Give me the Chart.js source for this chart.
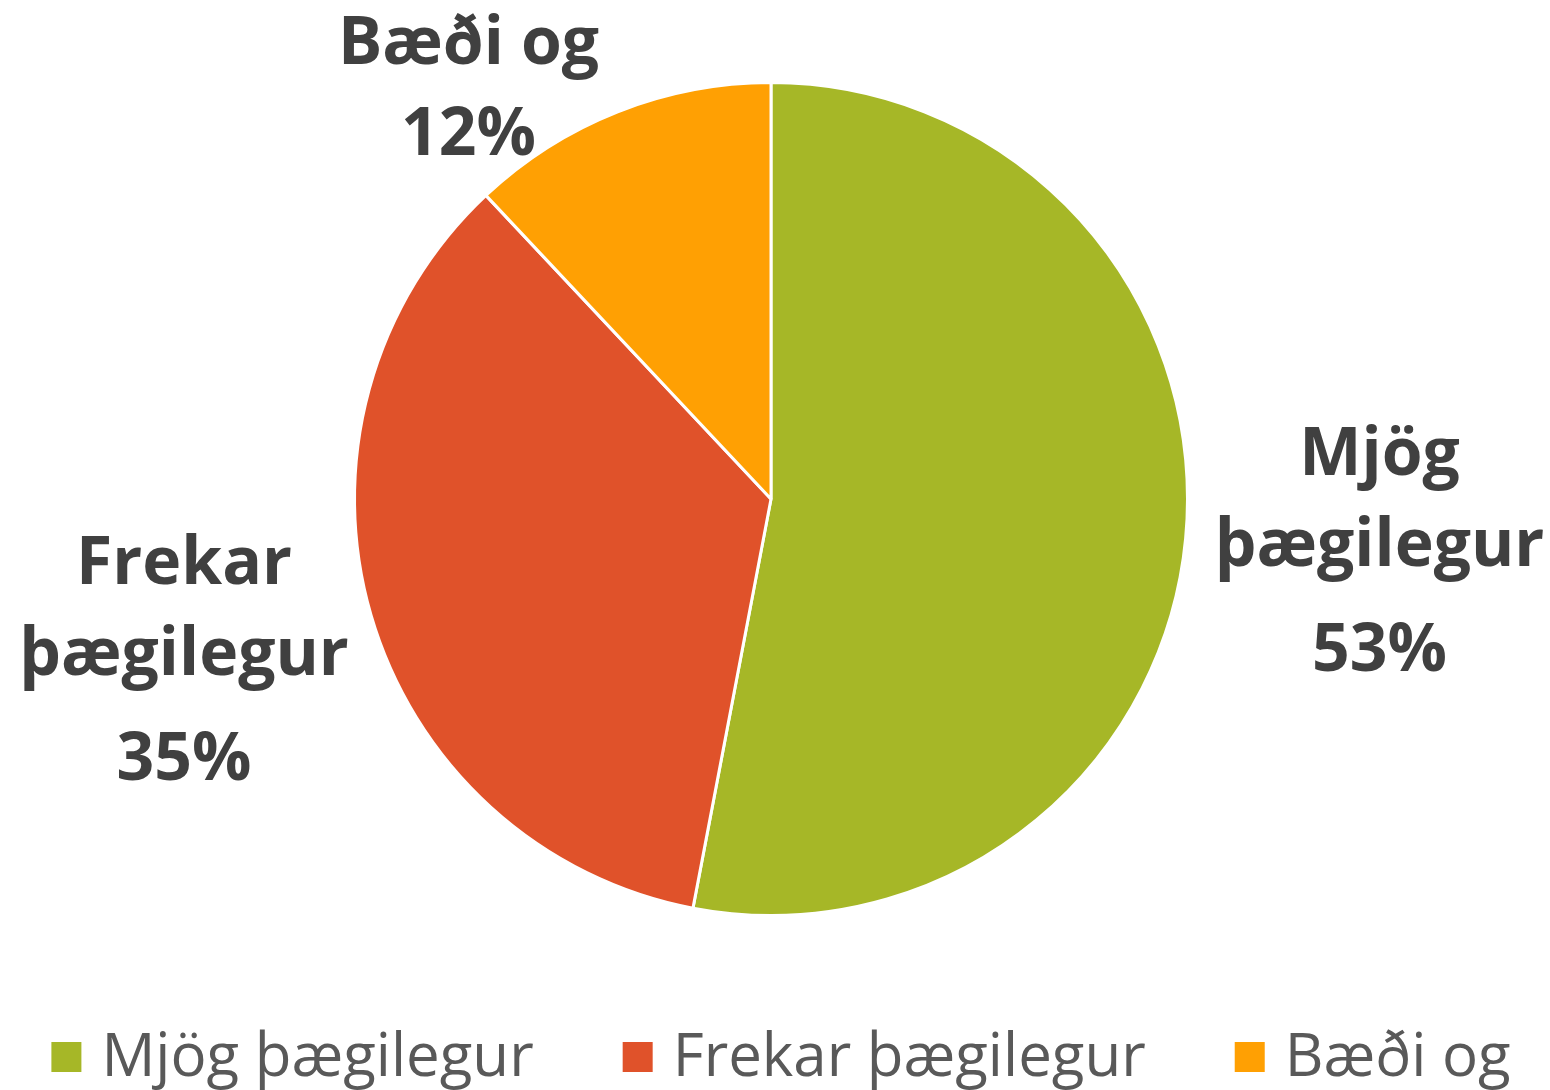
<!DOCTYPE html>
<html>
<head>
<meta charset="utf-8">
<script src="https://cdn.jsdelivr.net/npm/chart.js@4/dist/chart.umd.min.js"></script>
<style>
    body { margin: 0; background: #ffffff; }
</style>
</head>
<body>
<canvas id="pieChart" width="1550" height="1090"></canvas>

<script>

const categories = ["Mjög þægilegur", "Frekar þægilegur", "Bæði og"];

const shares = [53, 35, 12];

const sliceColors = ["#A6B727", "#E0522A", "#FFA003"];

const FONT = "'Open Sans', 'DejaVu Sans', sans-serif";

// MERKINGAR Á SNEIÐUM
const sliceLabels = {

    id: "sliceLabels",

    afterDatasetsDraw(chart) {

        const ctx = chart.ctx;

        const meta = chart.getDatasetMeta(0);

        const values = chart.data.datasets[0].data;

        const total = values.reduce((a, b) => a + b, 0);

        const fontSize = 66;

        const lineHeight = 91;

        const pctExtra = 14;

        ctx.save();

        ctx.font = "bold " + fontSize + "px " + FONT;

        ctx.fillStyle = "#404040";

        ctx.textAlign = "center";

        ctx.textBaseline = "middle";

        meta.data.forEach((arc, i) => {

            const name = chart.data.labels[i];

            let lines = [name];

            if (ctx.measureText(name).width > 350) {

                lines = name.split(" ");
            }

            lines.push(Math.round(values[i] / total * 100) + "%");

            // bil milli lína, aukabil á undan prósentu ef nafn er í tveimur línum
            const offsets = lines.map((l, k) =>
                k * lineHeight + (k === lines.length - 1 && k > 1 ? pctExtra : 0)
            );

            const widths = lines.map(l => ctx.measureText(l).width);

            const boxW = Math.max(...widths);

            const boxH = offsets[offsets.length - 1] + lineHeight;

            const mid = (arc.startAngle + arc.endAngle) / 2;

            const dx = Math.cos(mid);

            const dy = Math.sin(mid);

            const r = arc.outerRadius;

            let cx = arc.x + dx * (r + 30) + dx * boxW / 2;

            let cy = arc.y + dy * (r + 30) + dy * boxH / 2;

            // halda innan myndar
            cy = Math.max(cy, boxH / 2);

            cy = Math.min(cy, chart.height - boxH / 2);

            const lineY = k => cy - boxH / 2 + lineHeight / 2 + offsets[k];

            const lineRows = () => lines.map((l, k) => ({
                x1: cx - widths[k] / 2,
                x2: cx + widths[k] / 2,
                y1: lineY(k) - fontSize * 0.36,
                y2: lineY(k) + fontSize * 0.36
            }));

            const tooClose = () => lineRows().some(b => {

                const nx = Math.max(b.x1, Math.min(arc.x, b.x2));

                const ny = Math.max(b.y1, Math.min(arc.y, b.y2));

                return Math.hypot(nx - arc.x, ny - arc.y) < r - 5;
            });

            let guard = 0;

            while (tooClose() && guard < 400) {

                cx += dx < 0 ? -2 : 2;

                guard++;
            }

            lines.forEach((l, k) => {

                ctx.fillText(l, cx, lineY(k));
            });
        });

        ctx.restore();
    }
};

// SKÝRINGAR
const bottomLegend = {

    id: "bottomLegend",

    afterDraw(chart) {

        const ctx = chart.ctx;

        const colors = chart.data.datasets[0].backgroundColor;

        const box = 30;

        const gap = 20;

        const itemGap = 89;

        ctx.save();

        ctx.font = "60px " + FONT;

        ctx.textBaseline = "alphabetic";

        ctx.textAlign = "left";

        const widths = chart.data.labels.map(l => ctx.measureText(l).width);

        const totalW =
            widths.reduce((a, w) => a + box + gap + w, 0) +
            itemGap * (widths.length - 1);

        let x = chart.width / 2 + 6 - totalW / 2;

        chart.data.labels.forEach((label, i) => {

            ctx.fillStyle = colors[i];

            ctx.fillRect(x, 1042, box, box);

            ctx.fillStyle = "#595959";

            ctx.fillText(label, x + box + gap, 1076);

            x += box + gap + widths[i] + itemGap;
        });

        ctx.restore();
    }
};

new Chart(document.getElementById("pieChart"), {

    type: "pie",

    data: {

        labels: categories,

        datasets: [{

            data: shares,

            backgroundColor: sliceColors,

            borderColor: "#ffffff",

            borderWidth: 3
        }]
    },

    options: {

        responsive: false,

        animation: false,

        layout: {
            padding: { top: 81, bottom: 173, left: 352, right: 360 }
        },

        plugins: {
            legend: { display: false },
            tooltip: { enabled: false }
        }
    },

    plugins: [sliceLabels, bottomLegend]
});

</script>
</body>
</html>
